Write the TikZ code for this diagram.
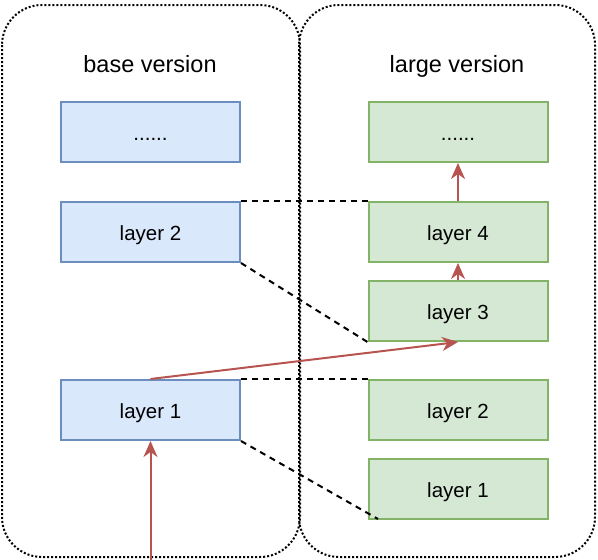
\documentclass[tikz,border=0pt]{standalone}
\usepackage{fontspec}
\setmainfont{Liberation Sans}
\usetikzlibrary{arrows.meta}
\definecolor{bfill}{HTML}{DAE8FC}
\definecolor{bline}{HTML}{6C8EBF}
\definecolor{gfill}{HTML}{D5E8D4}
\definecolor{gline}{HTML}{82B366}
\definecolor{rline}{HTML}{B85450}
\tikzset{
  blk/.style={rectangle, minimum width=179pt, minimum height=60pt, inner sep=0pt, line width=2pt, text height=16pt, text depth=0pt, font=\fontsize{20.5}{24}\selectfont},
  bbox/.style={blk, draw=bline, fill=bfill},
  gbox/.style={blk, draw=gline, fill=gfill},
  cont/.style={draw=black, line width=2pt, dotted, rounded corners=40pt},
  flow/.style={draw=rline, line width=2pt, -{Stealth[length=16pt,width=14pt,inset=5pt]}},
  link/.style={draw=black, line width=2pt, dash pattern=on 6pt off 5pt},
  ttl/.style={font=\fontsize{23.5}{28}\selectfont, text depth=0pt}
}
\begin{document}
\begin{tikzpicture}[x=1pt,y=-1pt]
\useasboundingbox (0,0) rectangle (598,560);
\draw[cont] (2,5) rectangle (300,557);
\draw[cont] (299,5) rectangle (595,557);
\node[ttl] (tb) at (150,64) {base version};
\node[ttl] (tl) at (457,64) {large version};
\node[bbox] (bd) at (150.5,132) {......};
\node[bbox] (b2) at (150.5,232) {layer 2};
\node[bbox] (b1) at (150.5,410) {layer 1};
\node[gbox] (gd) at (458,132) {......};
\node[gbox] (g4) at (458,232) {layer 4};
\node[gbox] (g3) at (458,311) {layer 3};
\node[gbox] (g2) at (458,410) {layer 2};
\node[gbox] (g1) at (458,489) {layer 1};
\coordinate (in) at (150.5,560);
\coordinate (g1e) at (378,519);
\draw[link] (b2.north east) -- (g4.north west);
\draw[link] (b2.south east) -- (g3.south west);
\draw[link] (b1.north east) -- (g2.north west);
\draw[link] (b1.south east) -- (g1e);
\draw[flow] (in) -- (b1.south);
\draw[flow] (b1.north) -- (g3.south);
\draw[flow] (g3.north) -- (g4.south);
\draw[flow] (g4.north) -- (gd.south);
\end{tikzpicture}
\end{document}
